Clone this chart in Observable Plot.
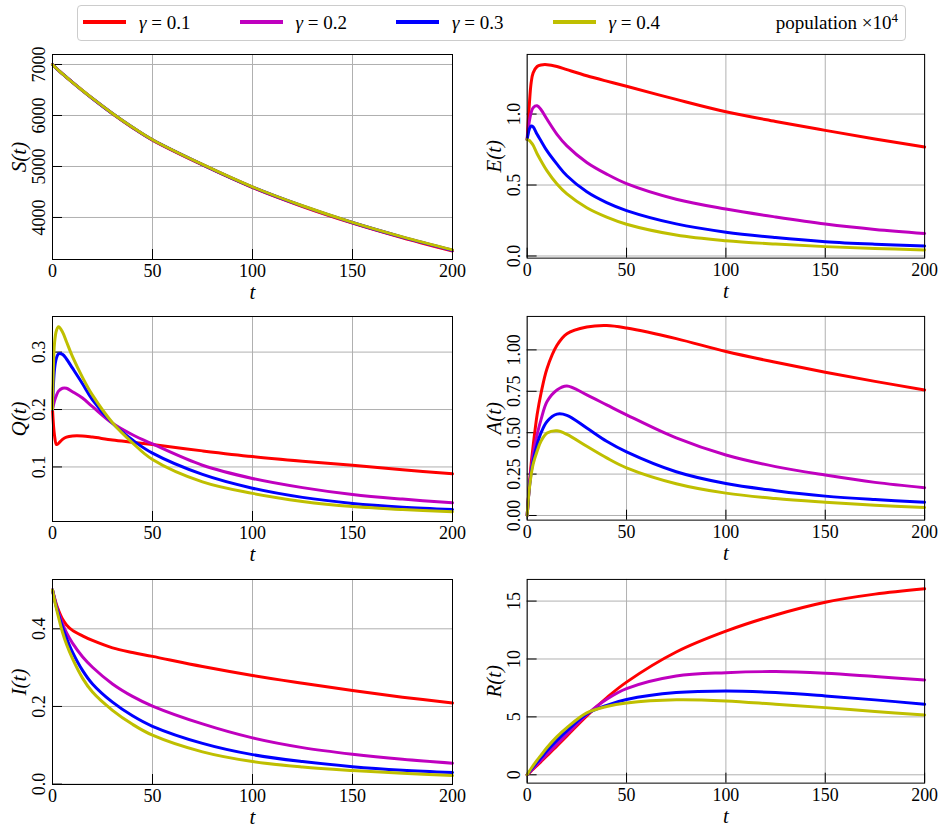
<!DOCTYPE html>
<html><head><meta charset="utf-8">
<script src="https://cdn.jsdelivr.net/npm/d3@7"></script>
<script src="https://cdn.jsdelivr.net/npm/@observablehq/plot@0.6"></script>
<style>
body{margin:0;background:#fff;}
#root{position:relative;width:944px;height:831px;background:#fff;font-family:"Liberation Serif","DejaVu Serif","Liberation Sans",sans-serif;overflow:hidden;}
.panel{position:absolute;}
#legend{position:absolute;left:77px;top:5px;width:827px;height:34px;border:1px solid #cccccc;border-radius:4px;background:#fff;}
.sw{position:absolute;top:14px;width:43px;height:4px;}
.lt{position:absolute;top:4px;font-size:19px;line-height:26px;white-space:nowrap;color:#000;}
</style></head>
<body>
<div id="root">
  <div id="legend"></div>
</div>
<script>
// ---- data ----
const gammas = ["γ = 0.1", "γ = 0.2", "γ = 0.3", "γ = 0.4"];
const gammaValues = ["0.1", "0.2", "0.3", "0.4"];
const colors = ["#ff0000", "#bf00bf", "#0000ff", "#bfbf00"];
const tt = [0,1,2,3,5,7,10,15,20,30,40,50,75,100,125,150,175,200];
const xTicks = [0, 50, 100, 150, 200];
const xTickLabels = ["0", "50", "100", "150", "200"];

// S(t)
const S1 = [7000,6960,6920,6884,6814,6748,6648,6487,6331,6034,5762,5516,5030,4588,4216,3890,3603,3343];
const S2 = [7000,6960,6920,6884,6815,6749,6649,6488,6333,6037,5765,5520,5035,4594,4222,3897,3610,3352];
const S3 = [7000,6960,6920,6885,6815,6750,6650,6489,6334,6039,5768,5523,5038,4597,4226,3901,3615,3358];
const S4 = [7000,6960,6921,6885,6816,6750,6650,6490,6335,6040,5770,5525,5040,4600,4230,3905,3620,3365];
// E(t)
const E1 = [0.82,1.05,1.22,1.29,1.335,1.346,1.348,1.335,1.313,1.27,1.232,1.196,1.103,1.016,0.948,0.885,0.824,0.768];
const E2 = [0.82,0.94,1.01,1.045,1.058,1.03,0.963,0.857,0.776,0.659,0.577,0.51,0.40,0.331,0.275,0.225,0.187,0.159];
const E3 = [0.82,0.89,0.916,0.91,0.857,0.81,0.74,0.647,0.565,0.452,0.376,0.32,0.226,0.168,0.13,0.101,0.083,0.07];
const E4 = [0.82,0.815,0.80,0.78,0.72,0.67,0.60,0.507,0.437,0.34,0.274,0.224,0.148,0.108,0.084,0.066,0.053,0.043];
// Q(t)
const Q1 = [0.20,0.155,0.139,0.141,0.148,0.152,0.154,0.154,0.152,0.147,0.143,0.139,0.128,0.118,0.110,0.103,0.095,0.088];
const Q2 = [0.20,0.215,0.225,0.232,0.237,0.237,0.231,0.22,0.205,0.176,0.156,0.140,0.103,0.080,0.064,0.052,0.044,0.0376];
const Q3 = [0.20,0.27,0.29,0.297,0.296,0.288,0.272,0.245,0.217,0.176,0.147,0.124,0.087,0.063,0.047,0.0365,0.030,0.026];
const Q4 = [0.20,0.315,0.338,0.344,0.335,0.318,0.292,0.256,0.225,0.177,0.142,0.113,0.074,0.054,0.040,0.031,0.026,0.022];
// A(t)
const A1 = [0,0.17,0.31,0.42,0.608,0.74,0.888,1.028,1.098,1.138,1.147,1.132,1.068,0.99,0.925,0.865,0.81,0.758];
const A2 = [0,0.16,0.28,0.37,0.488,0.58,0.688,0.758,0.782,0.728,0.668,0.608,0.468,0.365,0.295,0.244,0.20,0.168];
const A3 = [0,0.155,0.26,0.33,0.428,0.50,0.568,0.612,0.605,0.528,0.448,0.384,0.264,0.193,0.150,0.117,0.096,0.08];
const A4 = [0,0.15,0.245,0.31,0.388,0.45,0.498,0.512,0.49,0.418,0.348,0.288,0.192,0.135,0.102,0.08,0.062,0.048];
// I(t)
const I1 = [0.50,0.48,0.462,0.448,0.425,0.41,0.396,0.382,0.370,0.351,0.339,0.329,0.303,0.28,0.26,0.241,0.224,0.209];
const I2 = [0.50,0.478,0.458,0.442,0.413,0.39,0.363,0.328,0.301,0.258,0.226,0.201,0.155,0.119,0.094,0.077,0.064,0.054];
const I3 = [0.50,0.476,0.455,0.437,0.404,0.376,0.34,0.293,0.258,0.211,0.176,0.149,0.105,0.076,0.058,0.045,0.036,0.03];
const I4 = [0.50,0.474,0.451,0.43,0.391,0.36,0.323,0.273,0.237,0.19,0.154,0.126,0.083,0.058,0.044,0.035,0.028,0.022];
// R(t)
const R1 = [0,0.16,0.32,0.48,0.81,1.14,1.64,2.5,3.36,5.09,6.65,8.0,10.6,12.4,13.8,14.9,15.6,16.06];
const R2 = [0,0.19,0.37,0.55,0.9,1.25,1.78,2.65,3.5,5.2,6.52,7.44,8.53,8.82,8.91,8.76,8.48,8.19];
const R3 = [0,0.23,0.45,0.66,1.07,1.46,2.07,2.97,3.79,5.25,6.0,6.5,7.1,7.24,7.1,6.81,6.47,6.09];
const R4 = [0,0.28,0.54,0.79,1.26,1.7,2.36,3.3,4.08,5.35,5.9,6.2,6.48,6.38,6.09,5.8,5.46,5.17];

// axis ticks / labels
const S_ticks = [4000,5000,6000,7000], S_tickLabels = ["4000","5000","6000","7000"];
const E_ticks = [0,0.5,1.0], E_tickLabels = ["0.0","0.5","1.0"];
const Q_ticks = [0.1,0.2,0.3], Q_tickLabels = ["0.1","0.2","0.3"];
const A_ticks = [0,0.25,0.5,0.75,1.0], A_tickLabels = ["0.00","0.25","0.50","0.75","1.00"];
const I_ticks = [0,0.2,0.4], I_tickLabels = ["0.0","0.2","0.4"];
const R_ticks = [0,5,10,15], R_tickLabels = ["0","5","10","15"];

const panels = [
  {name:"S", series:[S1,S2,S3,S4], domain:[3176,7196], ticks:S_ticks, labels:S_tickLabels, left:0, top:44},
  {name:"E", series:[E1,E2,E3,E4], domain:[-0.015,1.42], ticks:E_ticks, labels:E_tickLabels, left:475, top:44},
  {name:"Q", series:[Q1,Q2,Q3,Q4], domain:[0.005,0.362], ticks:Q_ticks, labels:Q_tickLabels, left:0, top:306},
  {name:"A", series:[A1,A2,A3,A4], domain:[-0.028,1.202], ticks:A_ticks, labels:A_tickLabels, left:475, top:306},
  {name:"I", series:[I1,I2,I3,I4], domain:[-0.001,0.527], ticks:I_ticks, labels:I_tickLabels, left:0, top:569},
  {name:"R", series:[R1,R2,R3,R4], domain:[-0.72,16.87], ticks:R_ticks, labels:R_tickLabels, left:475, top:569}
];

const FONT = "'Liberation Serif', 'DejaVu Serif', 'Liberation Sans', sans-serif";

// ---- legend ----
const legend = document.getElementById("legend");
gammaValues.forEach((g, i) => {
  const sw = document.createElement("div");
  sw.className = "sw"; sw.style.left = (5 + i*156.5) + "px"; sw.style.background = colors[i];
  legend.appendChild(sw);
  const lt = document.createElement("div");
  lt.className = "lt"; lt.style.left = (61 + i*156.5) + "px";
  lt.innerHTML = "<i>γ</i> = " + g;
  legend.appendChild(lt);
});
const pop = document.createElement("div");
pop.className = "lt"; pop.style.right = "7px";
pop.innerHTML = "population ×10<sup style='font-size:13px;line-height:0'>4</sup>";
legend.appendChild(pop);

// ---- panels ----
const root = document.getElementById("root");
const W = 400, H = 205, mL = 52, mT = 10, mB = 47;
panels.forEach(p => {
  const rows = [];
  p.series.forEach((arr, si) => arr.forEach((v, k) => rows.push({t: tt[k], v, g: gammas[si]})));
  const [y0, y1] = p.domain;
  const tickLenY = 10 / H * (y1 - y0);
  const tickLenX = 10 / W * 200;
  const chart = Plot.plot({
    width: mL + W + 20, height: mT + H + mB,
    marginLeft: mL, marginRight: 20, marginTop: mT, marginBottom: mB,
    x: {domain: [0, 200], axis: null},
    y: {domain: p.domain, axis: null},
    color: {domain: gammas, range: colors},
    style: {fontFamily: FONT, fontSize: "18px", background: "transparent", overflow: "visible"},
    marks: [
      Plot.ruleX(xTicks, {x: d => d, stroke: "#b0b0b0", strokeWidth: 1}),
      Plot.ruleY(p.ticks, {y: d => d, stroke: "#b0b0b0", strokeWidth: 1}),
      Plot.ruleX(xTicks, {x: d => d, y1: y0, y2: y0 + tickLenY, stroke: "#000", strokeWidth: 1}),
      Plot.ruleY(p.ticks, {y: d => d, x1: 0, x2: tickLenX, stroke: "#000", strokeWidth: 1}),
      Plot.line(rows, {x: "t", y: "v", z: "g", stroke: "g", strokeWidth: 3, curve: "catmull-rom"}),
      Plot.frame({stroke: "#000", strokeWidth: 1}),
      Plot.text(xTicks, {x: d => d, text: (d, i) => xTickLabels[i], frameAnchor: "bottom", dy: 12, lineAnchor: "middle", fontSize: 18, fill: "#000"}),
      Plot.text(p.ticks, {y: d => d, text: (d, i) => p.labels[i], frameAnchor: "left", dx: -13, rotate: -90, textAnchor: "middle", lineAnchor: "middle", fontSize: 18, fill: "#000"}),
      Plot.text(["t"], {text: d => d, frameAnchor: "bottom", dy: 33, lineAnchor: "middle", fontSize: 21, fontStyle: "italic", fill: "#000"}),
      Plot.text([p.name + "(t)"], {text: d => d, frameAnchor: "left", dx: -33, rotate: -90, textAnchor: "middle", lineAnchor: "middle", fontSize: 21, fontStyle: "italic", fill: "#000"})
    ]
  });
  const div = document.createElement("div");
  div.className = "panel";
  div.style.left = p.left + "px"; div.style.top = p.top + "px";
  div.appendChild(chart);
  root.appendChild(div);
});
</script>
</body></html>
